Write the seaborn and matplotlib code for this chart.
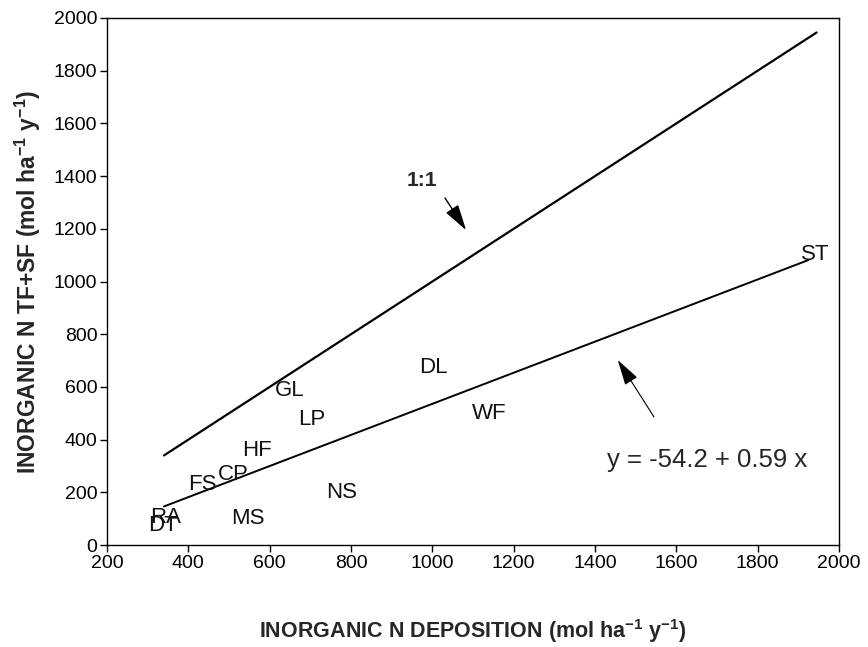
import matplotlib
matplotlib.use("Agg")
import matplotlib.pyplot as plt
import seaborn as sns
import numpy as np
import pandas as pd

# Site labels and their positions (deposition, TF+SF)
sites = ["GL", "LP", "HF", "CP", "FS", "NS", "MS", "RA", "DT", "DL", "WF", "ST"]
deposition = [650, 704, 569, 510, 434, 778, 547, 343, 338, 1002, 1139, 1941]
throughfall = [588, 478, 357, 269, 231, 201, 99, 106, 76, 672, 501, 1101]

# 1:1 line
one_x = [340, 1945]
one_y = [340, 1945]

# regression line y = -54.2 + 0.59 x
reg_intercept = -54.2
reg_slope = 0.59
reg_x = [340, 1925]
reg_y = [reg_intercept + reg_slope * v for v in reg_x]

xticks = [200, 400, 600, 800, 1000, 1200, 1400, 1600, 1800, 2000]
yticks = [0, 200, 400, 600, 800, 1000, 1200, 1400, 1600, 1800, 2000]

sns.set_style("ticks")
plt.rcParams['font.family'] = ['Liberation Sans', 'DejaVu Sans']

fig = plt.figure(figsize=(8.68, 6.47), dpi=100)
ax = fig.add_axes([0.1233, 0.1576, 0.8433, 0.8146])

df1 = pd.DataFrame({"x": one_x, "y": one_y})
df2 = pd.DataFrame({"x": reg_x, "y": reg_y})
sns.lineplot(data=df1, x="x", y="y", ax=ax, color="black", linewidth=1.6)
sns.lineplot(data=df2, x="x", y="y", ax=ax, color="black", linewidth=1.4)

for s, xv, yv in zip(sites, deposition, throughfall):
    ax.text(xv, yv, s, ha="center", va="center", fontsize=16, color="#111111")

# annotations
ax.annotate("", xy=(1083, 1195), xytext=(1031, 1317),
            arrowprops=dict(arrowstyle="-|>,head_length=1.6,head_width=0.45",
                            color="black", lw=1.0, shrinkA=0, shrinkB=0))
ax.text(975, 1385, "1:1", ha="center", va="center", fontsize=15, fontweight="bold")

ax.annotate("", xy=(1456, 702), xytext=(1545, 486),
            arrowprops=dict(arrowstyle="-|>,head_length=1.6,head_width=0.45",
                            color="black", lw=0.8, shrinkA=0, shrinkB=0))
ax.text(1675, 323, "y = -54.2 + 0.59 x", ha="center", va="center", fontsize=18.5)

ax.set_xlim(200, 2000)
ax.set_ylim(0, 2000)
ax.set_xticks(xticks)
ax.set_yticks(yticks)
ax.tick_params(axis="both", direction="out", length=5, width=1, labelsize=14,
               color="black", labelcolor="black", pad=2)
for sp in ax.spines.values():
    sp.set_visible(True)
    sp.set_color("black")
    sp.set_linewidth(1.0)

ax.set_xlabel("INORGANIC N DEPOSITION (mol ha$^{\\mathregular{-1}}$ y$^{\\mathregular{-1}}$)",
              fontsize=15.5, fontweight="bold", labelpad=33)
ax.set_ylabel("INORGANIC N TF+SF (mol ha$^{\\mathregular{-1}}$ y$^{\\mathregular{-1}}$)",
              fontsize=16.5, fontweight="bold", labelpad=8)

fig.savefig("out.png", dpi=100)
